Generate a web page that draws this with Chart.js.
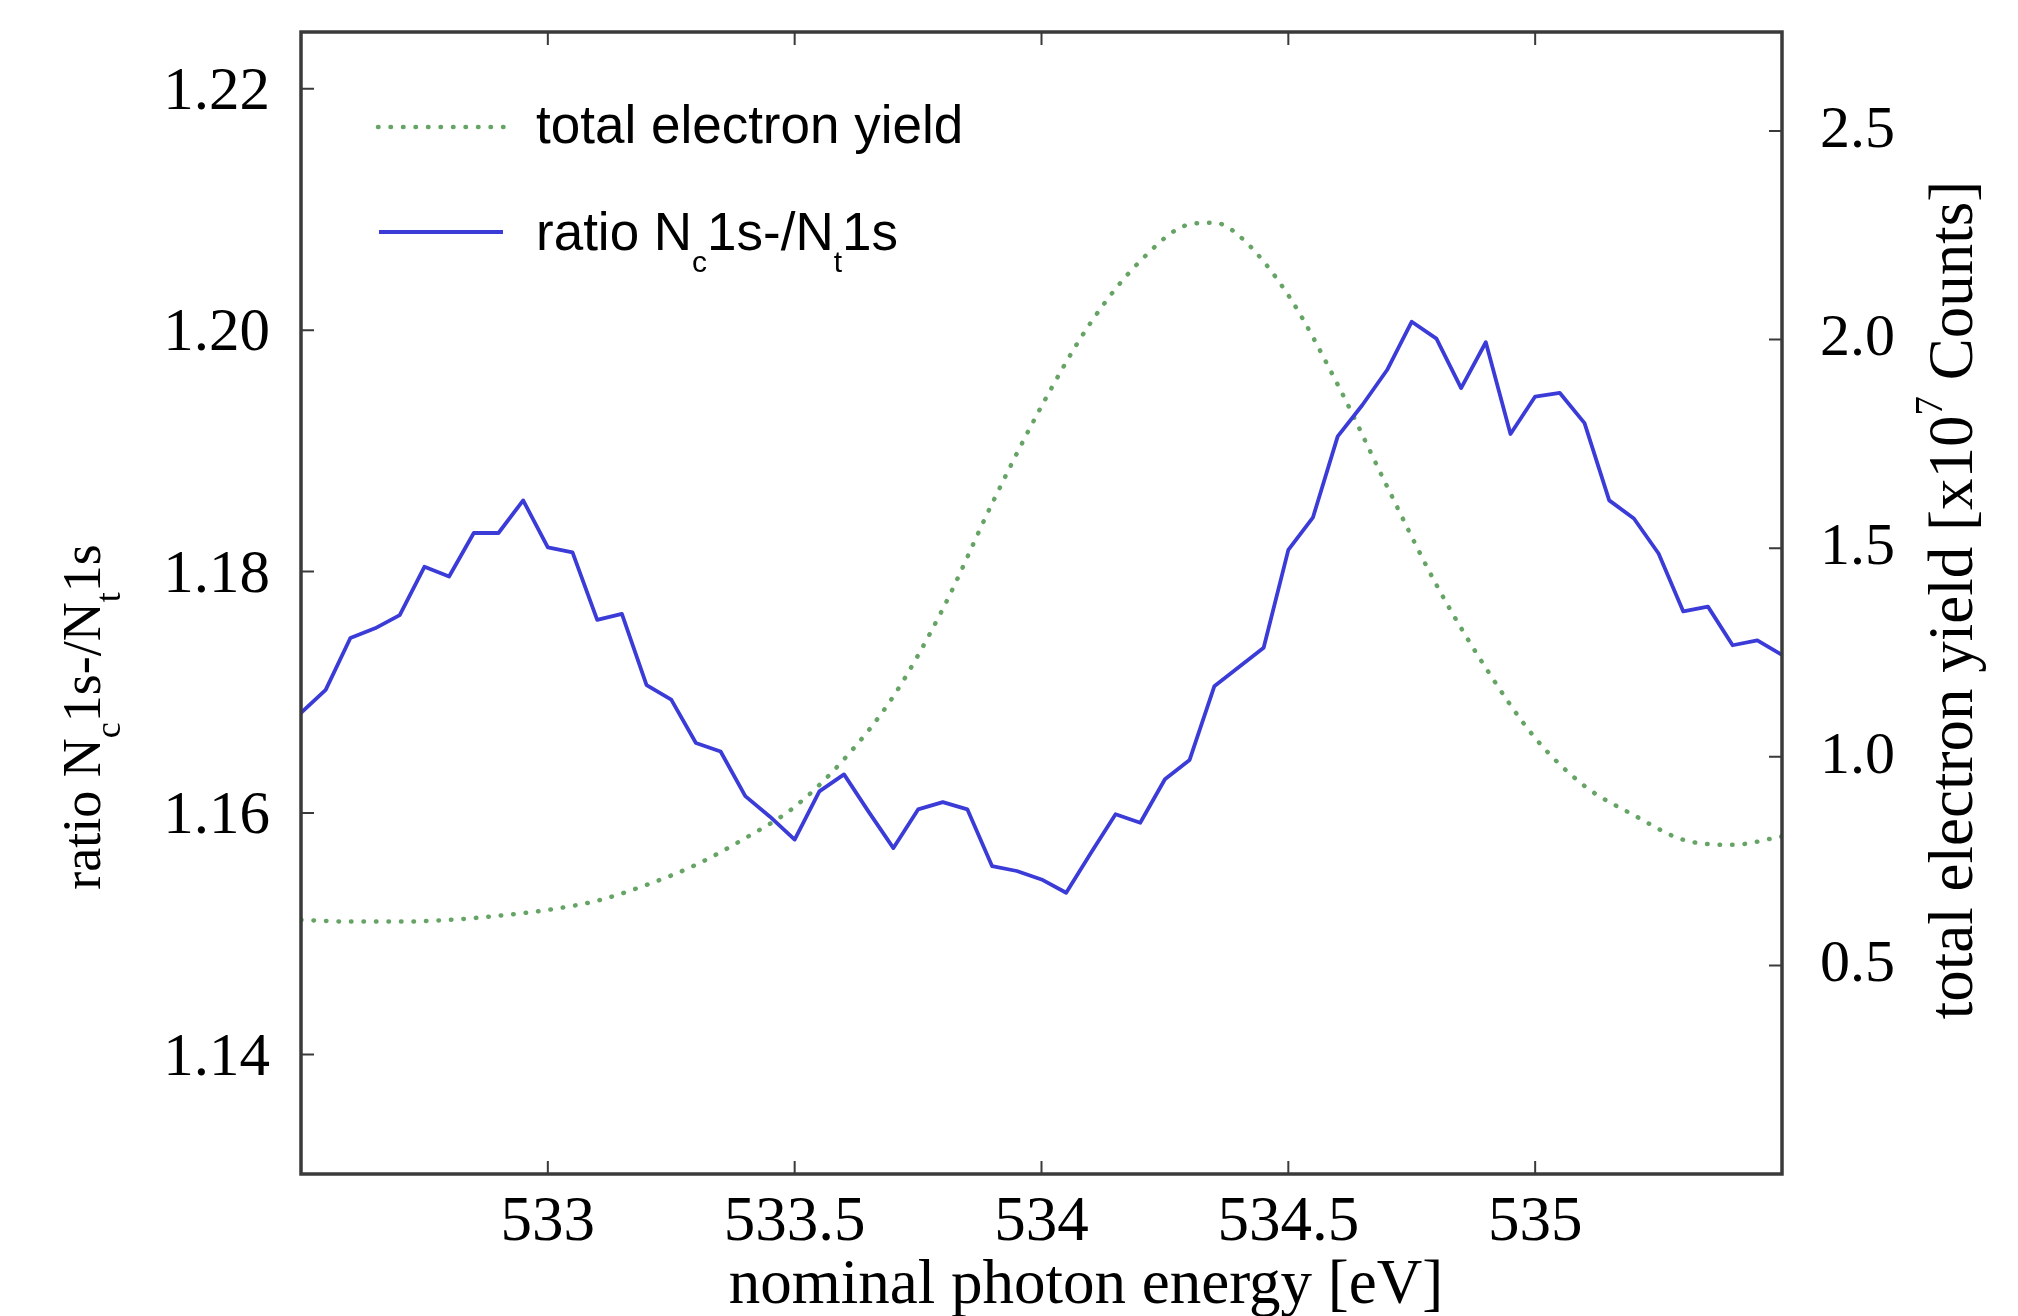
<!DOCTYPE html>
<html>
<head>
<meta charset="utf-8">
<script src="https://cdn.jsdelivr.net/npm/chart.js@4.4.1/dist/chart.umd.min.js"></script>
<style>
html, body { margin: 0; padding: 0; background: #ffffff; }
canvas { display: block; }
</style>
</head>
<body>
<canvas id="chart" width="2018" height="1316"></canvas>
<script>
// ---------- data ----------
const energy = [
  532.50, 532.55, 532.60, 532.65, 532.70, 532.75, 532.80, 532.85, 532.90, 532.95,
  533.00, 533.05, 533.10, 533.15, 533.20, 533.25, 533.30, 533.35, 533.40, 533.45,
  533.50, 533.55, 533.60, 533.65, 533.70, 533.75, 533.80, 533.85, 533.90, 533.95,
  534.00, 534.05, 534.10, 534.15, 534.20, 534.25, 534.30, 534.35, 534.40, 534.45,
  534.50, 534.55, 534.60, 534.65, 534.70, 534.75, 534.80, 534.85, 534.90, 534.95,
  535.00, 535.05, 535.10, 535.15, 535.20, 535.25, 535.30, 535.35, 535.40, 535.45,
  535.50
];
const ratio = [
  1.1683, 1.1702, 1.1745, 1.1753, 1.1764, 1.1804, 1.1796, 1.1832, 1.1832, 1.1859,
  1.1820, 1.1816, 1.1760, 1.1765, 1.1706, 1.1694, 1.1658, 1.1651, 1.1614, 1.1597,
  1.1578, 1.1618, 1.1632, 1.1601, 1.1571, 1.1603, 1.1609, 1.1603, 1.1556, 1.1552,
  1.1545, 1.1534, 1.1567, 1.1599, 1.1592, 1.1628, 1.1644, 1.1705, 1.1721, 1.1737,
  1.1818, 1.1845, 1.1912, 1.1938, 1.1967, 1.2007, 1.1993, 1.1952, 1.1990, 1.1914,
  1.1945, 1.1948, 1.1923, 1.1859, 1.1844, 1.1815, 1.1767, 1.1771, 1.1739, 1.1743,
  1.1731
];
const teyEnergy = [
  532.5, 532.6, 532.7, 532.8, 532.9, 533.0, 533.1, 533.2, 533.3, 533.4,
  533.5, 533.6, 533.7, 533.8, 533.9, 534.0, 534.1, 534.2, 534.3, 534.35,
  534.4, 534.5, 534.6, 534.7, 534.8, 534.9, 535.0, 535.1, 535.2, 535.3,
  535.4, 535.5
];
const teyValues = [
  0.609, 0.605, 0.605, 0.609, 0.619, 0.633, 0.655, 0.693, 0.741, 0.805,
  0.880, 0.994, 1.145, 1.354, 1.607, 1.840, 2.041, 2.188, 2.276, 2.280,
  2.249, 2.106, 1.892, 1.648, 1.412, 1.213, 1.045, 0.930, 0.860, 0.801,
  0.789, 0.809
];
const xTicks = [533, 533.5, 534, 534.5, 535];
const xTickLabels = ['533', '533.5', '534', '534.5', '535'];
const yLeftTicks = [1.14, 1.16, 1.18, 1.20, 1.22];
const yLeftTickLabels = ['1.14', '1.16', '1.18', '1.20', '1.22'];
const yRightTicks = [0.5, 1.0, 1.5, 2.0, 2.5];
const yRightTickLabels = ['0.5', '1.0', '1.5', '2.0', '2.5'];

// ---------- styles ----------
const BLUE = '#3b3bd8';
const GREEN = '#66a466';
const FRAME = '#3a3a3a';
const SERIF = "'Liberation Serif', 'Times New Roman', serif";
const SANS = "'Liberation Sans', Arial, sans-serif";

function richWidth(ctx, parts) {
  let w = 0;
  for (const p of parts) { ctx.font = p.font; w += ctx.measureText(p.t).width; }
  return w;
}
function drawRich(ctx, parts, x, y, rot, align) {
  ctx.save();
  ctx.translate(x, y);
  ctx.rotate(rot);
  ctx.textAlign = 'left';
  ctx.textBaseline = 'alphabetic';
  ctx.fillStyle = '#000';
  const w = richWidth(ctx, parts);
  let cx = align === 'center' ? -w / 2 : 0;
  for (const p of parts) {
    ctx.font = p.font;
    ctx.fillText(p.t, cx, p.dy || 0);
    cx += ctx.measureText(p.t).width;
  }
  ctx.restore();
}
function noPad(s) {
  s.paddingTop = 0; s.paddingBottom = 0; s.paddingLeft = 0; s.paddingRight = 0;
}

const decorPlugin = {
  id: 'decor',
  afterDraw(chart) {
    const { ctx, chartArea: a, scales } = chart;
    ctx.save();
    // frame
    ctx.strokeStyle = FRAME;
    ctx.lineWidth = 3.5;
    ctx.setLineDash([]);
    ctx.strokeRect(a.left, a.top, a.right - a.left, a.bottom - a.top);
    // inward ticks
    ctx.lineWidth = 2;
    ctx.beginPath();
    const TL = 13;
    for (const v of xTicks) {
      const px = scales.x.getPixelForValue(v);
      ctx.moveTo(px, a.bottom); ctx.lineTo(px, a.bottom - TL);
      ctx.moveTo(px, a.top); ctx.lineTo(px, a.top + TL);
    }
    for (const v of yLeftTicks) {
      const py = scales.y.getPixelForValue(v);
      ctx.moveTo(a.left, py); ctx.lineTo(a.left + TL, py);
    }
    for (const v of yRightTicks) {
      const py = scales.y2.getPixelForValue(v);
      ctx.moveTo(a.right, py); ctx.lineTo(a.right - TL, py);
    }
    ctx.stroke();

    // legend samples
    ctx.lineCap = 'round';
    ctx.strokeStyle = GREEN;
    ctx.lineWidth = 4.5;
    ctx.setLineDash([0.5, 12]);
    ctx.beginPath(); ctx.moveTo(378, 127); ctx.lineTo(510, 127); ctx.stroke();
    ctx.setLineDash([]);
    ctx.lineCap = 'butt';
    ctx.strokeStyle = BLUE;
    ctx.lineWidth = 4;
    ctx.beginPath(); ctx.moveTo(379, 232); ctx.lineTo(503, 232); ctx.stroke();
    ctx.restore();

    // legend texts
    drawRich(ctx, [{ t: 'total electron yield', font: '53px ' + SANS }], 536, 143, 0, 'left');
    drawRich(ctx, [
      { t: 'ratio N', font: '53px ' + SANS },
      { t: 'c', font: '30px ' + SANS, dy: 22 },
      { t: '1s-/N', font: '53px ' + SANS },
      { t: 't', font: '30px ' + SANS, dy: 22 },
      { t: '1s', font: '53px ' + SANS }
    ], 536, 250, 0, 'left');

    // axis titles
    drawRich(ctx, [{ t: 'nominal photon energy [eV]', font: '63px ' + SERIF }], 1086, 1303, 0, 'center');
    drawRich(ctx, [
      { t: 'ratio N', font: '54px ' + SERIF },
      { t: 'c', font: '36px ' + SERIF, dy: 20 },
      { t: '1s-/N', font: '54px ' + SERIF },
      { t: 't', font: '36px ' + SERIF, dy: 20 },
      { t: '1s', font: '54px ' + SERIF }
    ], 100, 717, -Math.PI / 2, 'center');
    drawRich(ctx, [
      { t: 'total electron yield [x10', font: '63px ' + SERIF },
      { t: '7', font: '39px ' + SERIF, dy: -30 },
      { t: ' Counts]', font: '63px ' + SERIF }
    ], 1972, 600, -Math.PI / 2, 'center');
  }
};

const ctx = document.getElementById('chart').getContext('2d');
new Chart(ctx, {
  type: 'line',
  data: {
    datasets: [
      {
        label: 'ratio Nc1s-/Nt1s',
        data: energy.map((e, i) => ({ x: e, y: ratio[i] })),
        yAxisID: 'y',
        borderColor: BLUE,
        borderWidth: 3.8,
        borderJoinStyle: 'round',
        pointRadius: 0,
        tension: 0,
        fill: false
      },
      {
        label: 'total electron yield',
        data: teyEnergy.map((e, i) => ({ x: e, y: teyValues[i] })),
        yAxisID: 'y2',
        borderColor: GREEN,
        borderWidth: 4.5,
        borderDash: [0.5, 12],
        borderCapStyle: 'round',
        cubicInterpolationMode: 'monotone',
        pointRadius: 0,
        fill: false
      }
    ]
  },
  options: {
    responsive: false,
    devicePixelRatio: 1,
    animation: false,
    events: [],
    layout: { padding: { top: 32, left: 0, right: 0, bottom: 0 } },
    plugins: { legend: { display: false }, tooltip: { enabled: false } },
    scales: {
      x: {
        type: 'linear',
        position: 'bottom',
        min: 532.5,
        max: 535.5,
        grid: { display: false, drawTicks: false },
        border: { display: false },
        afterBuildTicks: (s) => { s.ticks = xTicks.map(v => ({ value: v })); },
        afterFit: (s) => { s.height = 142; noPad(s); },
        ticks: {
          autoSkip: false,
          maxRotation: 0,
          padding: 12,
          color: '#000',
          font: { family: SERIF, size: 63 },
          callback: (v, i) => xTickLabels[i]
        }
      },
      y: {
        type: 'linear',
        position: 'left',
        min: 1.1301,
        max: 1.2247,
        grid: { display: false, drawTicks: false },
        border: { display: false },
        afterBuildTicks: (s) => { s.ticks = yLeftTicks.map(v => ({ value: v })); },
        afterFit: (s) => { s.width = 301; noPad(s); },
        ticks: {
          padding: 31,
          labelOffset: 4,
          color: '#000',
          font: { family: SERIF, size: 61 },
          callback: (v, i) => yLeftTickLabels[i]
        }
      },
      y2: {
        type: 'linear',
        position: 'right',
        min: 0,
        max: 2.737,
        grid: { display: false, drawTicks: false },
        border: { display: false },
        afterBuildTicks: (s) => { s.ticks = yRightTicks.map(v => ({ value: v })); },
        afterFit: (s) => { s.width = 236; noPad(s); },
        ticks: {
          padding: 38,
          labelOffset: 0,
          color: '#000',
          font: { family: SERIF, size: 60 },
          callback: (v, i) => yRightTickLabels[i]
        }
      }
    }
  },
  plugins: [decorPlugin]
});
</script>
</body>
</html>
